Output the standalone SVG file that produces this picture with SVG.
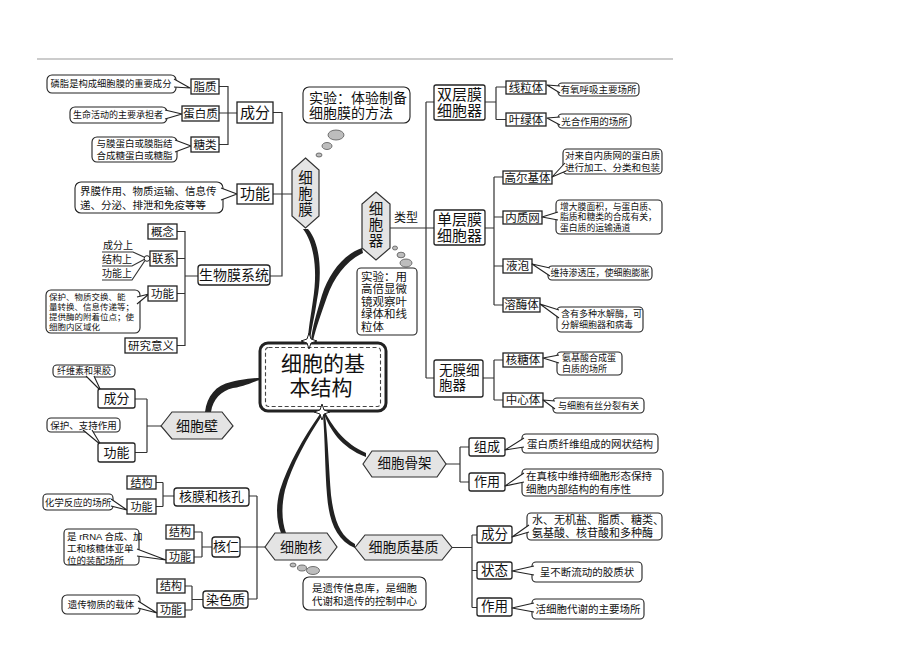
<svg xmlns="http://www.w3.org/2000/svg" width="920" height="651" viewBox="0 0 920 651">
<defs>
<style>
text{font-family:"Liberation Sans","Noto Sans CJK SC",sans-serif;fill:#111;text-anchor:middle;dominant-baseline:central}
.s{text-anchor:start}
.box{fill:#fff;stroke:#222;stroke-width:1.3}
.cb{fill:#fff;stroke:#222;stroke-width:1.1}
.tl{fill:#fff;stroke:#222;stroke-width:1.1;stroke-linejoin:round}
.hex{fill:#e4e4e4;stroke:#333;stroke-width:1.2}
.ln{fill:none;stroke:#333;stroke-width:1.2}
.br{fill:#222}
.bub{fill:#bdbdbd;stroke:#555;stroke-width:0.8}
.star{fill:#fff;stroke:#222;stroke-width:1}
</style>
</defs>
<rect width="920" height="651" fill="#fff"/>
<line x1="37" y1="59" x2="673" y2="59" stroke="#9a9a9a" stroke-width="1.2"/>

<g id="connectors">
<path class="ln" d="M219,86.5 H228 V144.5 H219 M219,113 H237 M273,112.5 H282 V276 H270 M273,194 H292"/>
<path class="ln" d="M177,231.5 H185 V345.5 H177 M177,258.5 H185 M177,293.5 H185 M185,276 H198"/>
<path class="ln" d="M102,252 H133 L145,257.5 M102,266 H132 L145,259 M102,280 H132 L145,260.5"/>
<path class="ln" d="M390,228 H434 M426,102 V378 M426,102 H434 M426,378 H434"/>
<path class="ln" d="M485,102 H496 M496,87 V119.5 M496,87 H506 M496,119.5 H506"/>
<path class="ln" d="M485,228 H494 M494,177 V305 M494,177 H503 M494,217 H503 M494,266 H503 M494,305 H503"/>
<path class="ln" d="M483,378 H494 M494,360 V400 M494,360 H503 M494,400 H503"/>
<path class="ln" d="M161,426 H147 M147,399 V452.5 M147,399 H135 M147,452.5 H135"/>
<path class="ln" d="M265,547 H257 M257,496 V599 M257,496 H249 M257,547 H240 M257,599 H248"/>
<path class="ln" d="M174,496 H163 M163,482.5 V506.5 M163,482.5 H156 M163,506.5 H156"/>
<path class="ln" d="M212,547 H202 M202,532 V557 M202,532 H194 M202,557 H194"/>
<path class="ln" d="M203,599.5 H192 M192,586 V610 M192,586 H185 M192,610 H185"/>
<path class="ln" d="M446,464 H460 M460,447 V482 M460,447 H469 M460,482 H469"/>
<path class="ln" d="M452,547.5 H472 M472,535 V607.5 M472,535 H477 M472,570.5 H477 M472,607.5 H477"/>
<path class="br" d="M303,229 C316,246 317,276 313,300 C311,315 308,330 308,341 L310,341 C311,330 315,315 317,300 C322,276 321,244 308,229 Z"/>
<path class="br" d="M362,248 C344,254 329,273 322,295 C317,312 312,328 311,341 L313,341 C316,328 321,314 327,297 C334,277 347,260 363,253 Z"/>
<path class="br" d="M205,412 C207,396 216,385 231,382 C244,379 252,378 260,378 L260,380 C252,382 246,386 233,388 C221,391 213,399 211,412 Z"/>
<path class="br" d="M320,414 C303,438 288,465 280,490 C275,508 277,522 281,533 L286,533 C282,522 281,508 285,490 C292,465 307,438 323,414 Z"/>
<path class="br" d="M323,414 C325,440 325,470 327,495 C329,521 336,540 355,548 L355,544 C340,536 334,520 331,495 C329,470 328,440 325,414 Z"/>
<path class="br" d="M324,414 C330,429 340,447 366,457 L366,453 C344,443 334,428 326,414 Z"/>
</g>

<g id="center">
<rect x="260" y="343" width="126" height="68" rx="8" fill="#fff" stroke="#222" stroke-width="3"/>
<rect x="265.5" y="347.5" width="115" height="59" rx="3" fill="none" stroke="#444" stroke-width="1.1" stroke-dasharray="4 2.5"/>
<text x="323" y="363" font-size="21">细胞的基</text>
<text x="321" y="387" font-size="21">本结构</text>
<polygon class="star" points="309,333 311,339 317,341 311,343 309,349 307,343 301,341 307,339"/>
<polygon class="star" points="322,404 324,410 330,412 324,414 322,420 320,414 314,412 320,410"/>
</g>

<g id="n-zhizhi">
<rect class="cb" x="47" y="75" width="129" height="18" rx="5"/>
<polyline class="tl" points="174,79 190,88 174,87"/>
<text x="111" y="84" font-size="9.3">磷脂是构成细胞膜的重要成分</text>
<rect class="box" x="191" y="79" width="28" height="15"/>
<text x="205" y="86.5" font-size="11.5">脂质</text>
</g>
<g id="n-danbaizhi">
<rect class="cb" x="70" y="107" width="97" height="16" rx="5"/>
<polyline class="tl" points="165,110 182,114 165,119"/>
<text x="118" y="115" font-size="9">生命活动的主要承担者</text>
<rect class="box" x="182" y="106" width="37" height="15"/>
<text x="200.5" y="113.5" font-size="11.5">蛋白质</text>
</g>
<g id="n-tanglei">
<rect class="cb" x="92" y="137" width="85" height="25" rx="5"/>
<polyline class="tl" points="175,140 191,146 175,152"/>
<text x="134.5" y="143.5" font-size="9.5">与膜蛋白或膜脂结</text>
<text x="134.5" y="155.5" font-size="9.5">合成糖蛋白或糖脂</text>
<rect class="box" x="191" y="137" width="28" height="15"/>
<text x="205" y="144.5" font-size="11.5">糖类</text>
</g>
<g id="n-chengfen1">
<rect class="box" x="237" y="102" width="36" height="21"/>
<text x="255" y="112" font-size="15">成分</text>
</g>
<g id="n-gongneng1">
<rect class="cb" x="75" y="182" width="148" height="31" rx="6"/>
<polyline class="tl" points="221,188 237,194 221,200"/>
<text class="s" x="80" y="190.5" font-size="10.5">界膜作用、物质运输、信息传</text>
<text class="s" x="80" y="204.5" font-size="10.5">递、分泌、排泄和免疫等等</text>
<rect class="box" x="237" y="184" width="36" height="20"/>
<text x="255" y="193.5" font-size="15">功能</text>
</g>
<g id="n-gainian">
<rect class="box" x="148" y="224" width="29" height="15"/>
<text x="162.5" y="231.5" font-size="11.5">概念</text>
</g>
<g id="n-lianxi">
<text x="118" y="245.5" font-size="10">成分上</text>
<text x="117" y="259.5" font-size="10">结构上</text>
<text x="117" y="273.5" font-size="10">功能上</text>
<circle cx="147" cy="258.5" r="2.8" fill="#fff" stroke="#222" stroke-width="1"/>
<rect class="box" x="150" y="251" width="27" height="15"/>
<text x="163.5" y="258.5" font-size="11.5">联系</text>
</g>
<g id="n-gongneng2">
<rect class="cb" x="46" y="290" width="94" height="43" rx="5"/>
<polyline class="tl" points="137,297 149,294 137,304"/>
<text class="s" x="49" y="296.5" font-size="8.5">保护、物质交换、能</text>
<text class="s" x="49" y="306.5" font-size="8.5">量转换、信息传递等；</text>
<text class="s" x="49" y="316.5" font-size="8.5">提供酶的附着位点；使</text>
<text class="s" x="49" y="326.5" font-size="8.5">细胞内区域化</text>
<rect class="box" x="148" y="286" width="29" height="15"/>
<text x="162.5" y="293.5" font-size="11.5">功能</text>
</g>
<g id="n-yanjiu">
<rect class="box" x="125" y="338" width="52" height="15"/>
<text x="151" y="345.5" font-size="11.5">研究意义</text>
</g>
<g id="n-shengwumo">
<rect class="box" x="198" y="265" width="72" height="20" rx="3"/>
<text x="234" y="274.5" font-size="14">生物膜系统</text>
</g>
<g id="n-xibaomo">
<polygon class="hex" points="305.5,158 319,170 319,216 305.5,228 292,216 292,170"/>
<text x="305.5" y="178" font-size="14.5">细</text>
<text x="305.5" y="194" font-size="14.5">胞</text>
<text x="305.5" y="210" font-size="14.5">膜</text>
<ellipse class="bub" cx="319" cy="155" rx="3" ry="2"/>
<ellipse class="bub" cx="327" cy="146" rx="5" ry="3.5"/>
<ellipse class="bub" cx="336" cy="135" rx="8" ry="5"/>
</g>
<g id="n-shiyan1">
<rect class="cb" x="303" y="87" width="107" height="36" rx="6"/>
<text class="s" x="309" y="98" font-size="14">实验：体验制备</text>
<text class="s" x="309" y="112.5" font-size="14">细胞膜的方法</text>
</g>
<g id="n-xibaoqi">
<polygon class="hex" points="376,192 390,204 390,248 376,260 362,248 362,204"/>
<text x="376" y="209" font-size="14.5">细</text>
<text x="376" y="225" font-size="14.5">胞</text>
<text x="376" y="241" font-size="14.5">器</text>
<text x="406" y="217.5" font-size="12">类型</text>
<ellipse class="bub" cx="395" cy="248" rx="2.5" ry="2"/>
<ellipse class="bub" cx="401" cy="255" rx="4" ry="2.8"/>
<ellipse class="bub" cx="406" cy="263" rx="6" ry="4"/>
</g>
<g id="n-shiyan2">
<rect class="cb" x="357" y="268" width="60" height="67" rx="4"/>
<text class="s" x="361" y="276.5" font-size="11.5">实验：用</text>
<text class="s" x="361" y="289" font-size="11.5">高倍显微</text>
<text class="s" x="361" y="301.5" font-size="11.5">镜观察叶</text>
<text class="s" x="361" y="314" font-size="11.5">绿体和线</text>
<text class="s" x="361" y="326.5" font-size="11.5">粒体</text>
</g>
<g id="n-shuangceng">
<rect class="box" x="434" y="85" width="51" height="35" rx="2"/>
<text x="459.5" y="94.5" font-size="15">双层膜</text>
<text x="459.5" y="110.5" font-size="15">细胞器</text>
</g>
<g id="n-xianliti">
<rect class="box" x="506" y="81" width="40" height="13"/>
<text x="526" y="87.5" font-size="11.5">线粒体</text>
<rect class="cb" x="558" y="83" width="81" height="13" rx="4"/>
<polyline class="tl" points="560,86 547,85 560,93"/>
<text x="598.5" y="89.5" font-size="9.5">有氧呼吸主要场所</text>
</g>
<g id="n-yelvti">
<rect class="box" x="506" y="113" width="40" height="13"/>
<text x="526" y="119.5" font-size="11.5">叶绿体</text>
<rect class="cb" x="558" y="114" width="73" height="14" rx="4"/>
<polyline class="tl" points="560,117 547,118 560,125"/>
<text x="594.5" y="121" font-size="9.5">光合作用的场所</text>
</g>
<g id="n-danceng">
<rect class="box" x="434" y="210" width="51" height="35" rx="2"/>
<text x="459.5" y="219.5" font-size="15">单层膜</text>
<text x="459.5" y="235" font-size="15">细胞器</text>
</g>
<g id="n-gaoerji">
<rect class="box" x="503" y="171" width="49" height="13"/>
<text x="527.5" y="177.5" font-size="11.5">高尔基体</text>
<rect class="cb" x="563" y="149" width="99" height="25" rx="4"/>
<polyline class="tl" points="565,163 552,177 566,171"/>
<text x="612.5" y="155.5" font-size="9.5">对来自内质网的蛋白质</text>
<text x="612.5" y="167.5" font-size="9.5">进行加工、分类和包装</text>
</g>
<g id="n-neizhiwang">
<rect class="box" x="503" y="211" width="39" height="13"/>
<text x="522.5" y="217.5" font-size="11.5">内质网</text>
<rect class="cb" x="556" y="200" width="106" height="34" rx="4"/>
<polyline class="tl" points="558,212 542,217 558,220"/>
<text class="s" x="560" y="206.5" font-size="8.8">增大膜面积，与蛋白质、</text>
<text class="s" x="560" y="217" font-size="8.8">脂质和糖类的合成有关，</text>
<text class="s" x="560" y="227.5" font-size="8.8">蛋白质的运输通道</text>
</g>
<g id="n-yepao">
<rect class="box" x="503" y="259" width="29" height="14"/>
<text x="517.5" y="266" font-size="11.5">液泡</text>
<rect class="cb" x="548" y="266" width="104" height="14" rx="4"/>
<polyline class="tl" points="550,268 532,264 550,276"/>
<text x="600" y="273" font-size="9">维持渗透压，使细胞膨胀</text>
</g>
<g id="n-rongmeiti">
<rect class="box" x="503" y="298" width="37" height="14"/>
<text x="521.5" y="305" font-size="11.5">溶酶体</text>
<rect class="cb" x="557" y="307" width="86" height="25" rx="4"/>
<polyline class="tl" points="559,310 540,304 559,318"/>
<text class="s" x="561" y="313.5" font-size="9">含有多种水解酶，可</text>
<text class="s" x="561" y="325" font-size="9">分解细胞器和病毒</text>
</g>
<g id="n-wumo">
<rect class="box" x="434" y="360" width="49" height="37" rx="2"/>
<text class="s" x="439" y="370.5" font-size="13.5">无膜细</text>
<text class="s" x="439" y="385.5" font-size="13.5">胞器</text>
</g>
<g id="n-hetangti">
<rect class="box" x="503" y="353" width="40" height="14"/>
<text x="523" y="360" font-size="11.5">核糖体</text>
<rect class="cb" x="557" y="352" width="65" height="23" rx="4"/>
<polyline class="tl" points="559,355 543,358 559,363"/>
<text class="s" x="562" y="358" font-size="9">氨基酸合成蛋</text>
<text class="s" x="562" y="369" font-size="9">白质的场所</text>
</g>
<g id="n-zhongxinti">
<rect class="box" x="503" y="393" width="40" height="14"/>
<text x="523" y="400" font-size="11.5">中心体</text>
<rect class="cb" x="553" y="398" width="91" height="15" rx="4"/>
<polyline class="tl" points="555,401 543,400 555,409"/>
<text x="598.5" y="405.5" font-size="9">与细胞有丝分裂有关</text>
</g>
<g id="n-xibaobi">
<polygon class="hex" points="161,426 172,412 222,412 233,426 222,439 172,439"/>
<text x="197" y="425.5" font-size="14">细胞壁</text>
</g>
<g id="n-bi-chengfen">
<rect class="cb" x="53" y="365" width="62" height="12" rx="4"/>
<polyline class="tl" points="86,376 101,391 94,376"/>
<text x="84" y="371" font-size="9">纤维素和果胶</text>
<rect class="box" x="98" y="389" width="37" height="19" rx="2"/>
<text x="116.5" y="398" font-size="13">成分</text>
</g>
<g id="n-bi-gongneng">
<rect class="cb" x="47" y="418" width="73" height="14" rx="4"/>
<polyline class="tl" points="83,430 101,445 92,430"/>
<text x="83.5" y="425" font-size="9.5">保护、支持作用</text>
<rect class="box" x="98" y="443" width="37" height="19" rx="2"/>
<text x="116.5" y="452" font-size="13">功能</text>
</g>
<g id="n-xibaohe">
<polygon class="hex" points="265,547 275,533 327,533 337,547 327,560 275,560"/>
<text x="301" y="546.5" font-size="14">细胞核</text>
<ellipse class="bub" cx="293" cy="565" rx="3" ry="2"/>
<ellipse class="bub" cx="302" cy="568" rx="4.5" ry="3"/>
<ellipse class="bub" cx="313" cy="570.5" rx="6.5" ry="4"/>
<rect class="cb" x="303" y="577" width="123" height="33" rx="6"/>
<text x="364.5" y="587.5" font-size="10.5">是遗传信息库，是细胞</text>
<text x="364.5" y="601" font-size="10.5">代谢和遗传的控制中心</text>
</g>
<g id="n-hemo">
<rect class="box" x="174" y="488" width="75" height="18" rx="3"/>
<text x="211.5" y="496.5" font-size="13">核膜和核孔</text>
<rect class="box" x="127" y="476" width="29" height="13"/>
<text x="141.5" y="482.5" font-size="11">结构</text>
<rect class="cb" x="43" y="494" width="70" height="16" rx="4"/>
<polyline class="tl" points="111,499 127,510 111,506"/>
<text x="78" y="502" font-size="9.5">化学反应的场所</text>
<rect class="box" x="127" y="499" width="29" height="15"/>
<text x="141.5" y="506.5" font-size="11">功能</text>
</g>
<g id="n-heren">
<rect class="box" x="212" y="537" width="28" height="20" rx="3"/>
<text x="226" y="546.5" font-size="13">核仁</text>
<rect class="box" x="166" y="525" width="28" height="14"/>
<text x="180" y="532" font-size="11">结构</text>
<rect class="cb" x="64" y="529" width="75" height="36" rx="4"/>
<polyline class="tl" points="137,549 166,560 137,556"/>
<text class="s" x="67" y="536" font-size="9.5">是 rRNA 合成、加</text>
<text class="s" x="67" y="548" font-size="9.5">工和核糖体亚单</text>
<text class="s" x="67" y="560" font-size="9.5">位的装配场所</text>
<rect class="box" x="166" y="550" width="28" height="13"/>
<text x="180" y="556.5" font-size="11">功能</text>
</g>
<g id="n-ransezhi">
<rect class="box" x="203" y="591" width="45" height="17" rx="3"/>
<text x="225.5" y="599" font-size="13">染色质</text>
<rect class="box" x="157" y="579" width="28" height="14"/>
<text x="171" y="586" font-size="11">结构</text>
<rect class="cb" x="62" y="595" width="78" height="19" rx="5"/>
<polyline class="tl" points="138,601 157,613 138,608"/>
<text x="101" y="604.5" font-size="9.5">遗传物质的载体</text>
<rect class="box" x="157" y="603" width="28" height="14"/>
<text x="171" y="610" font-size="11">功能</text>
</g>
<g id="n-gujia">
<polygon class="hex" points="363,464 372,451 437,451 446,464 437,477 372,477"/>
<text x="404.5" y="463.5" font-size="13.5">细胞骨架</text>
</g>
<g id="n-gj-zucheng">
<rect class="box" x="469" y="438" width="36" height="18" rx="2"/>
<text x="487" y="446.5" font-size="13">组成</text>
<rect class="cb" x="522" y="434" width="136" height="19" rx="4"/>
<polyline class="tl" points="524,438 505,450 524,447"/>
<text x="590" y="443.5" font-size="10.5">蛋白质纤维组成的网状结构</text>
</g>
<g id="n-gj-zuoyong">
<rect class="box" x="469" y="473" width="36" height="18" rx="2"/>
<text x="487" y="481.5" font-size="13">作用</text>
<rect class="cb" x="522" y="469" width="141" height="27" rx="4"/>
<polyline class="tl" points="524,473 505,486 524,482"/>
<text class="s" x="526" y="476" font-size="10.5">在真核中维持细胞形态保持</text>
<text class="s" x="526" y="489" font-size="10.5">细胞内部结构的有序性</text>
</g>
<g id="n-jizhi">
<polygon class="hex" points="355,547.5 365,535 442,535 452,547.5 442,560 365,560"/>
<text x="403.5" y="547" font-size="14">细胞质基质</text>
</g>
<g id="n-jz-chengfen">
<rect class="box" x="477" y="526" width="35" height="17" rx="2"/>
<text x="494.5" y="534" font-size="13.5">成分</text>
<rect class="cb" x="527" y="513" width="135" height="27" rx="4"/>
<polyline class="tl" points="529,525 512,537 529,532"/>
<text class="s" x="532" y="520" font-size="11">水、无机盐、脂质、糖类、</text>
<text class="s" x="532" y="533" font-size="11">氨基酸、核苷酸和多种酶</text>
</g>
<g id="n-jz-zhuangtai">
<rect class="box" x="477" y="562" width="35" height="17" rx="2"/>
<text x="494.5" y="570" font-size="13.5">状态</text>
<rect class="cb" x="532" y="562" width="110" height="20" rx="4"/>
<polyline class="tl" points="534,566 512,571 534,575"/>
<text x="587" y="572" font-size="10.5">呈不断流动的胶质状</text>
</g>
<g id="n-jz-zuoyong">
<rect class="box" x="477" y="598" width="35" height="18" rx="2"/>
<text x="494.5" y="606.5" font-size="13.5">作用</text>
<rect class="cb" x="532" y="599" width="112" height="20" rx="4"/>
<polyline class="tl" points="534,603 512,608 534,612"/>
<text x="588" y="609" font-size="10.5">活细胞代谢的主要场所</text>
</g>
</svg>
